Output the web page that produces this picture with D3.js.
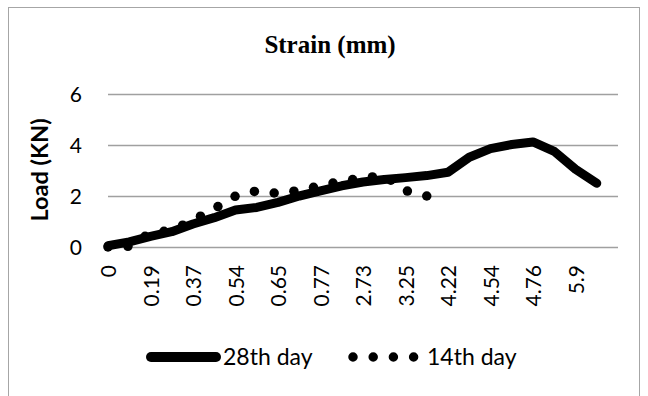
<!DOCTYPE html>
<html>
<head>
<meta charset="utf-8">
<script src="https://cdn.jsdelivr.net/npm/d3@7"></script>
<style>
  html, body { margin: 0; padding: 0; background: #fff; }
  svg { display: block; }
</style>
</head>
<body>
<svg id="chart" width="648" height="396"></svg>
<script>
// ---- data ----
const categories = ["0","0.1","0.19","0.28","0.37","0.46","0.54","0.6","0.65","0.71","0.77","1.75",
                    "2.73","2.99","3.25","3.74","4.22","4.38","4.54","4.65","4.76","5.33","5.9","6.2"];
const load28 = [0.05,0.2,0.42,0.6,0.9,1.15,1.45,1.55,1.75,2.0,2.2,2.4,
                2.55,2.65,2.72,2.8,2.93,3.52,3.86,4.02,4.12,3.75,3.05,2.5];
const load14 = [0,0.03,0.55,0.65,1.05,1.5,2.0,2.2,2.1,2.22,2.4,2.58,2.71,2.8,2.21,2.0];
const yTicks = [0,2,4,6];
const seriesNames = ["28th day","14th day"];
const titleText = "Strain (mm)";
const yTitle = "Load (KN)";

// ---- layout ----
const svg = d3.select("#chart");
const plot = {left:108, right:618, top:94, bottom:247};
const x = d3.scaleLinear().domain([0, categories.length]).range([plot.left, plot.right]);
const y = d3.scaleLinear().domain([0, 6]).range([plot.bottom, plot.top]);
const font = "Lato, 'Open Sans', sans-serif";

// outer border
svg.append("rect").attr("x",8.5).attr("y",7.5).attr("width",631).attr("height",420)
   .attr("fill","none").attr("stroke","#a6a6a6").attr("stroke-width",1);

// title
svg.append("text").attr("x",330).attr("y",53).attr("text-anchor","middle")
   .style("font-family","'Liberation Serif', 'Times New Roman', serif")
   .style("font-weight","bold").style("font-size","25px").text(titleText);

// y axis + gridlines
const yAxis = svg.append("g").attr("transform",`translate(${plot.left},0)`)
  .call(d3.axisLeft(y).tickValues(yTicks).tickSize(-(plot.right-plot.left)).tickFormat(d3.format("d")));
yAxis.select(".domain").remove();
yAxis.selectAll(".tick line").attr("stroke","#a0a0a0").attr("stroke-width",1.3);
yAxis.selectAll(".tick text").attr("x",-26).attr("dy","0.35em")
  .style("font-family",font).style("font-size","21px").attr("fill","#000");

// x axis labels
const xIdx = d3.range(0, categories.length, 2);
const xAxis = svg.append("g").attr("transform",`translate(0,${plot.bottom})`)
  .call(d3.axisBottom(x).tickValues(xIdx).tickSize(0).tickFormat(i => categories[i]));
xAxis.select(".domain").remove();
xAxis.selectAll(".tick text")
  .attr("transform","rotate(-90)").attr("x",-18).attr("y",0).attr("dy","0.36em")
  .style("text-anchor","end").style("font-family",font).style("font-size","21px").attr("fill","#000");

// y title
svg.append("text").attr("transform","translate(40,170) rotate(-90)")
   .attr("text-anchor","middle").attr("dy","0.35em")
   .style("font-family",font).style("font-weight","bold").style("font-size","23.5px").text(yTitle);

// series
const line = d3.line().x((d,i)=>x(i)).y(d=>y(d));
svg.append("path").datum(load28).attr("d",line).attr("fill","none")
   .attr("stroke","#000").attr("stroke-width",9).attr("stroke-linejoin","round").attr("stroke-linecap","round");

// 14th day: round-dot line style, dots spread evenly along the series path
const guide = svg.append("path").datum(load14).attr("d",line).attr("fill","none").attr("stroke","none");
const gnode = guide.node();
const len = gnode.getTotalLength();
const nGaps = Math.round(len / 20);
const dotPts = d3.range(nGaps + 1).map(k => gnode.getPointAtLength(Math.min(len, k * len / nGaps)));
svg.append("g").selectAll("circle").data(dotPts).join("circle")
   .attr("cx", p => p.x).attr("cy", p => p.y).attr("r", 4.75).attr("fill","#000");

// legend
const lg = svg.append("g");
lg.append("line").attr("x1",151).attr("x2",216).attr("y1",357).attr("y2",357)
  .attr("stroke","#000").attr("stroke-width",10).attr("stroke-linecap","round");
lg.append("text").attr("x",223).attr("y",357).attr("dy","0.35em")
  .style("font-family",font).style("font-size","23px").text(seriesNames[0]);
lg.append("line").attr("x1",353).attr("x2",414).attr("y1",357).attr("y2",357)
  .attr("stroke","#000").attr("stroke-width",9.5).attr("stroke-linecap","round")
  .attr("stroke-dasharray","0 20.2");
lg.append("text").attr("x",427).attr("y",357).attr("dy","0.35em")
  .style("font-family",font).style("font-size","23px").text(seriesNames[1]);
</script>
</body>
</html>
